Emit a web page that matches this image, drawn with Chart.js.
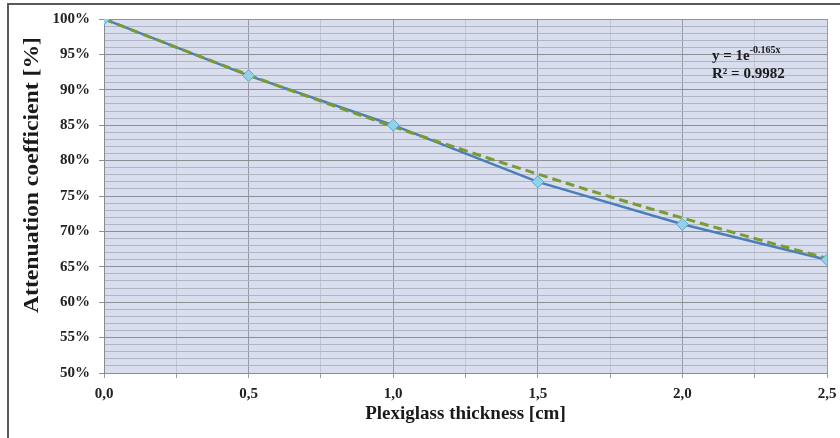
<!DOCTYPE html>
<html>
<head>
<meta charset="utf-8">
<script src="https://cdn.jsdelivr.net/npm/chart.js@4"></script>
<style>
  html, body { margin: 0; padding: 0; background: #fff; }
  #wrap { width: 840px; height: 438px; }
</style>
</head>
<body>
<div id="wrap"><canvas id="chart" width="840" height="438"></canvas></div>
<script>
const thickness = [0, 0.5, 1.0, 1.5, 2.0, 2.5];
const attenuation = [100, 92, 85, 77, 71, 66];
const trendX = [0, 0.25, 0.5, 0.75, 1.0, 1.25, 1.5, 1.75, 2.0, 2.25, 2.5];
const trendY = [100, 96, 92.1, 88.4, 84.8, 81.4, 78.1, 74.9, 71.9, 69.0, 66.2];
const equationText = "y = 1e";
const equationExp = "-0.165x";
const r2Text = "R² = 0.9982";
const yTitle = "Attenuation coefficient [%]";
const xTitle = "Plexiglass thickness [cm]";

const serif = "'Liberation Serif', 'Times New Roman', serif";

const framePlugin = {
  id: "frame",
  beforeDraw(chart) {
    const { ctx, chartArea: a } = chart;
    ctx.save();
    ctx.fillStyle = "#fff";
    ctx.fillRect(0, 0, chart.width, chart.height);
    ctx.fillStyle = "#d9deef";
    ctx.fillRect(a.left, a.top, a.right - a.left, a.bottom - a.top);
    ctx.strokeStyle = "#5a5a5a";
    ctx.lineWidth = 2;
    ctx.beginPath();
    ctx.moveTo(8, 438);
    ctx.lineTo(8, 4);
    ctx.lineTo(840, 4);
    ctx.stroke();
    ctx.restore();
  },
  afterDraw(chart) {
    const { ctx } = chart;
    ctx.save();
    ctx.fillStyle = "#1a1a1a";
    ctx.textBaseline = "alphabetic";
    ctx.font = "bold 15px " + serif;
    ctx.fillText(equationText, 712, 60);
    const w = ctx.measureText(equationText).width;
    ctx.font = "bold 10px " + serif;
    ctx.fillText(equationExp, 712 + w, 53);
    ctx.font = "bold 15px " + serif;
    ctx.fillText(r2Text, 712, 78);

    // y title, stretched along its length like the original
    ctx.translate(33, 175);
    ctx.rotate(-Math.PI / 2);
    ctx.font = "bold 20px " + serif;
    ctx.textAlign = "center";
    ctx.textBaseline = "middle";
    const tw = ctx.measureText(yTitle).width;
    ctx.scale(276 / tw, 1);
    ctx.fillText(yTitle, 0, 0);
    ctx.restore();
  }
};

const ctx = document.getElementById("chart").getContext("2d");
new Chart(ctx, {
  type: "line",
  data: {
    datasets: [
      {
        label: "points",
        data: thickness.map((x, i) => ({ x: x, y: attenuation[i] })),
        showLine: false,
        pointStyle: "rectRot",
        pointRadius: 6,
        pointBackgroundColor: "#93d2e6",
        pointBorderColor: "#5aa9cc",
        pointBorderWidth: 1,
        order: 1
      },
      {
        label: "trend",
        data: trendX.map((x, i) => ({ x: x, y: trendY[i] })),
        borderColor: "#7a9a32",
        borderWidth: 3,
        borderDash: [9, 5],
        pointRadius: 0,
        tension: 0.4,
        order: 2
      },
      {
        label: "measured",
        data: thickness.map((x, i) => ({ x: x, y: attenuation[i] })),
        borderColor: "#4a7ebb",
        borderWidth: 2.5,
        pointRadius: 0,
        tension: 0,
        order: 3
      }
    ]
  },
  options: {
    responsive: false,
    animation: false,
    events: [],
    layout: { padding: { left: 22, top: 19, right: 13, bottom: 13 } },
    plugins: { legend: { display: false }, tooltip: { enabled: false } },
    scales: {
      x: {
        type: "linear",
        min: 0,
        max: 2.5,
        afterFit: s => { s.height = 52; },
        ticks: {
          stepSize: 0.25,
          autoSkip: false,
          maxRotation: 0,
          padding: 3,
          color: "#222",
          font: { family: serif, size: 15, weight: "bold", lineHeight: 1.75 },
          callback: v => (Math.abs(v * 2 - Math.round(v * 2)) < 1e-6 ? v.toFixed(1).replace(".", ",") : "")
        },
        grid: {
          color: c => (c.tick && Math.abs(c.tick.value * 2 - Math.round(c.tick.value * 2)) < 1e-6 ? "#9a9aa4" : "#c2c5d2"),
          tickColor: "#9a9aa4",
          tickLength: 5,
          lineWidth: 1
        },
        border: { color: "#8c8c8c", width: 1 },
        title: {
          display: true,
          text: xTitle,
          color: "#1a1a1a",
          padding: { top: 0, bottom: 0 },
          font: { family: serif, size: 19, weight: "bold" }
        }
      },
      y: {
        min: 50,
        max: 100,
        afterFit: s => { s.width = 82; },
        ticks: {
          stepSize: 1,
          autoSkip: false,
          padding: 9,
          color: "#222",
          font: { family: serif, size: 15, weight: "bold" },
          callback: v => (v % 5 === 0 ? v + "%" : "")
        },
        grid: {
          color: c => (c.tick && c.tick.value % 5 === 0 ? "#8e8e96" : "#b1b4c2"),
          tickColor: c => (c.tick && c.tick.value % 5 === 0 ? "#8e8e96" : "rgba(0,0,0,0)"),
          tickLength: 5,
          lineWidth: 1
        },
        border: { color: "#8c8c8c", width: 1 },
        title: { display: false }
      }
    }
  },
  plugins: [framePlugin]
});
</script>
</body>
</html>
